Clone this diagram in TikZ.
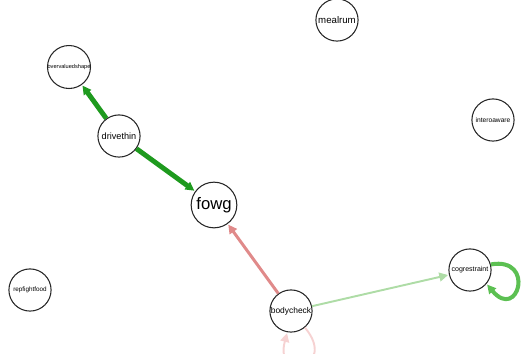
\documentclass[tikz,border=0pt]{standalone}
\usepackage{fontspec}
\setmainfont{Liberation Sans}
\usetikzlibrary{arrows.meta}

\definecolor{darkgreen}{HTML}{1E9A1E}
\definecolor{midgreen}{HTML}{5CC052}
\definecolor{palegreen}{HTML}{AEDCA6}
\definecolor{salmon}{HTML}{E08A8A}
\definecolor{palepink}{HTML}{F6D2D2}

\tikzset{
  var/.style={circle, draw=black!85, line width=0.6pt, fill=white, minimum size=24pt, inner sep=0pt},
  link/.style={-{Triangle[length=5pt, width=5pt]}, shorten >=0.5pt}
}

\begin{document}
\begin{tikzpicture}[x=0.02cm, y=-0.02cm]
  \useasboundingbox (0,0) rectangle (525,353);
  % nodes
  \node[var] (mealrum) at (337,20) {\fontsize{5.5}{6}\selectfont mealrum};
  \node[var] (overvaluedshape) at (69,67) {\fontsize{3.2}{4}\selectfont overvaluedshape};
  \node[var] (drivethin) at (119,136) {\fontsize{5.2}{6}\selectfont drivethin};
  \node[var, minimum size=26pt] (fowg) at (214,205) {\fontsize{9.5}{11}\selectfont fowg};
  \node[var] (interoaware) at (493,120) {\fontsize{3.8}{4}\selectfont interoaware};
  \node[var] (repfightfood) at (30,290) {\fontsize{3.6}{4}\selectfont repfightfood};
  \node[var] (cogrestraint) at (470,270) {\fontsize{4}{5}\selectfont cogrestraint};
  \node[var] (bodycheck) at (291,311) {\fontsize{4.8}{6}\selectfont bodycheck};
  % edges
  \draw[link, draw=darkgreen, line width=2.8pt] (drivethin) -- (overvaluedshape);
  \draw[link, draw=darkgreen, line width=2.8pt] (drivethin) -- (fowg);
  \draw[link, draw=salmon, line width=1.7pt] (bodycheck) -- (fowg);
  \draw[link, draw=palegreen, line width=1.1pt] (bodycheck) -- (cogrestraint);
  \draw[link, draw=midgreen, line width=2.3pt]
    (cogrestraint.15) .. controls +(10:26pt) and +(-50:28pt) .. (cogrestraint.-40);
  \draw[link, draw=palepink, line width=1.1pt]
    (bodycheck.-50) .. controls +(-50:30pt) and +(-105:30pt) .. (bodycheck.-100);
\end{tikzpicture}
\end{document}
